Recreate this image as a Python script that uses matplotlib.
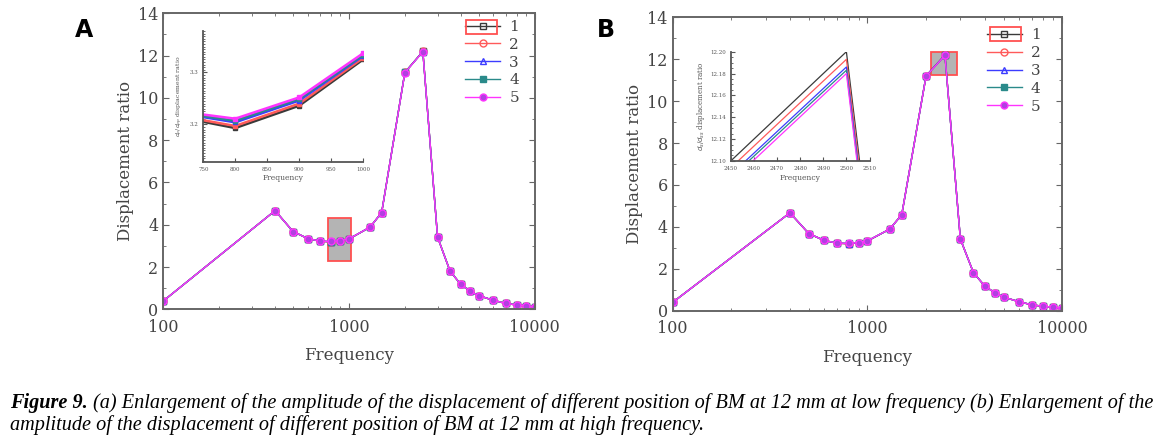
import matplotlib.pyplot as plt
import matplotlib.patches as mpatches
from matplotlib.ticker import MultipleLocator, AutoMinorLocator, LogLocator, NullFormatter
import numpy as np

# frequencies (Hz)
freq = [100, 400, 500, 600, 700, 800, 900, 1000, 1300, 1500, 2000, 2500,
        3000, 3500, 4000, 4500, 5000, 6000, 7000, 8000, 9000, 10000]

# displacement ratio for the five BM positions
ratio_1 = [0.40, 4.67, 3.68, 3.35, 3.217, 3.193, 3.236, 3.325, 3.89, 4.58, 11.20, 12.200,
           3.42, 1.82, 1.18, 0.86, 0.65, 0.43, 0.28, 0.21, 0.17, 0.12]
ratio_2 = [0.40, 4.67, 3.68, 3.35, 3.219, 3.197, 3.240, 3.328, 3.89, 4.58, 11.20, 12.193,
           3.42, 1.82, 1.18, 0.86, 0.65, 0.43, 0.28, 0.21, 0.17, 0.12]
ratio_3 = [0.40, 4.67, 3.68, 3.35, 3.224, 3.204, 3.246, 3.332, 3.89, 4.58, 11.20, 12.186,
           3.42, 1.82, 1.18, 0.86, 0.65, 0.43, 0.28, 0.21, 0.17, 0.12]
ratio_4 = [0.40, 4.67, 3.68, 3.35, 3.225, 3.207, 3.249, 3.334, 3.89, 4.58, 11.20, 12.183,
           3.42, 1.82, 1.18, 0.86, 0.65, 0.43, 0.28, 0.21, 0.17, 0.12]
ratio_5 = [0.40, 4.67, 3.68, 3.35, 3.227, 3.211, 3.252, 3.337, 3.89, 4.58, 11.19, 12.180,
           3.42, 1.82, 1.18, 0.86, 0.65, 0.43, 0.28, 0.21, 0.17, 0.12]
labels = ['1', '2', '3', '4', '5']
series = [ratio_1, ratio_2, ratio_3, ratio_4, ratio_5]

colors = ['#3a3a3a', '#ff5a5a', '#3c3cff', '#2a8a8a', '#ff33ff']
markers = ['s', 'o', '^', 's', 'o']
mfcs = ['none', 'none', 'none', '#2a8a8a', '#b040e0']

serif = 'DejaVu Serif'
axcol = '#666666'

fig = plt.figure(figsize=(11.75, 4.42), dpi=100)


def style_main(ax):
    ax.set_xscale('log')
    ax.set_xlim(100, 10000)
    ax.set_ylim(0, 14)
    ax.yaxis.set_major_locator(MultipleLocator(2))
    ax.yaxis.set_minor_locator(MultipleLocator(1))
    ax.xaxis.set_minor_locator(LogLocator(base=10, subs=np.arange(2, 10) * 1.0))
    ax.xaxis.set_minor_formatter(NullFormatter())
    ax.set_xticks([100, 1000, 10000])
    ax.set_xticklabels(['100', '1000', '10000'])
    ax.tick_params(which='both', direction='in', top=True, right=True,
                   colors=axcol, labelcolor='#444444', labelsize=11.5)
    ax.tick_params(which='major', length=4)
    ax.tick_params(which='minor', length=2.5)
    ax.tick_params(axis='x', pad=7)
    for lab in ax.get_xticklabels() + ax.get_yticklabels():
        lab.set_family(serif)
    for s in ax.spines.values():
        s.set_color(axcol)
        s.set_linewidth(1.4)
    ax.set_xlabel('Frequency', family=serif, fontsize=12, color='#444444', labelpad=8)
    ax.set_ylabel('Displacement ratio', family=serif, fontsize=12, color='#444444', labelpad=3)


def draw_series(ax, ms, lw):
    hs = []
    for y, lab, c, m, fc in zip(series, labels, colors, markers, mfcs):
        h, = ax.plot(freq, y, color=c, lw=lw, marker=m, ms=ms, mfc=fc, mec=c,
                     mew=1.0, label=lab)
        hs.append(h)
    return hs


def style_inset(ax):
    ax.spines['top'].set_visible(False)
    ax.spines['right'].set_visible(False)
    for s in ['left', 'bottom']:
        ax.spines[s].set_color('#555555')
        ax.spines[s].set_linewidth(1.3)
    ax.tick_params(which='both', direction='in', colors='#555555',
                   labelcolor='#555555', labelsize=4)
    ax.tick_params(which='major', length=3)
    ax.tick_params(which='minor', length=1.5)
    for lab in ax.get_xticklabels() + ax.get_yticklabels():
        lab.set_family(serif)
    ax.set_xlabel('Frequency', family=serif, fontsize=5.5, color='#555555', labelpad=2)
    ax.patch.set_alpha(0)


# ---------------- panel A ----------------
axA = fig.add_axes([0.139, 0.300, 0.316, 0.670])
style_main(axA)
hA = draw_series(axA, 5, 1.0)
axA.add_patch(mpatches.Rectangle((770, 2.3), 1020 - 770, 2.0, facecolor='#b4b4b4',
                                 edgecolor='#ff5050', lw=1.3, zorder=1))
axA.legend(hA, labels, loc='upper right', bbox_to_anchor=(0.995, 1.024), frameon=False,
           prop={'family': serif, 'size': 11}, handlelength=2.3, labelspacing=0.25,
           handletextpad=0.6, labelcolor='#444444')
fig.patches.append(mpatches.Rectangle((466 / 1175, 1 - 34 / 442), 31 / 1175, 14 / 442,
                                      transform=fig.transFigure, fill=False,
                                      edgecolor='#ff5050', lw=1.3))
fig.text(75 / 1175, 1 - 30 / 442, 'A', fontsize=17, fontweight='bold', va='center')

insA = fig.add_axes([0.173, 0.634, 0.136, 0.296])
for y, c in zip(series, colors):
    insA.plot(freq, y, color=c, lw=1.8, marker='s', ms=2.5, mfc=c, mec=c)
insA.set_xlim(750, 1000)
insA.set_ylim(3.128, 3.38)
insA.set_xticks([750, 800, 850, 900, 950, 1000])
insA.set_yticks([3.2, 3.3])
insA.yaxis.set_minor_locator(MultipleLocator(0.005))
style_inset(insA)
insA.set_ylabel('$d_{p}/d_{pp}$ displacement ratio', family=serif, fontsize=4.5,
                color='#555555', labelpad=3)

# ---------------- panel B ----------------
axB = fig.add_axes([0.5725, 0.297, 0.3315, 0.664])
style_main(axB)
hB = draw_series(axB, 5, 1.0)
axB.add_patch(mpatches.Rectangle((2110, 11.25), 2870 - 2110, 1.11, facecolor='#b4b4b4',
                                 edgecolor='#ff5050', lw=1.3, zorder=1))
axB.legend(hB, labels, loc='upper right', bbox_to_anchor=(0.98, 1.009), frameon=False,
           prop={'family': serif, 'size': 11}, handlelength=2.3, labelspacing=0.25,
           handletextpad=0.6, labelcolor='#444444')
fig.patches.append(mpatches.Rectangle((990 / 1175, 1 - 41 / 442), 31 / 1175, 14 / 442,
                                      transform=fig.transFigure, fill=False,
                                      edgecolor='#ff5050', lw=1.3))
fig.text(597 / 1175, 1 - 30 / 442, 'B', fontsize=17, fontweight='bold', va='center')

insB = fig.add_axes([0.622, 0.636, 0.118, 0.247])
for y, c in zip(series, colors):
    insB.plot(freq, y, color=c, lw=0.9)
insB.set_xlim(2450, 2510)
insB.set_ylim(12.10, 12.20)
insB.set_xticks([2450, 2460, 2470, 2480, 2490, 2500, 2510])
insB.set_yticks([12.10, 12.12, 12.14, 12.16, 12.18, 12.20])
insB.yaxis.set_minor_locator(AutoMinorLocator(4))
style_inset(insB)
insB.set_ylabel('$d_{s}/d_{ss}$ displacement ratio', family=serif, fontsize=5,
                color='#555555', labelpad=2)

# ---------------- caption ----------------
capfont = 'Liberation Serif'
capsize = 14.6
head = fig.text(10 / 1175, 1 - 403 / 442, 'Figure 9.', family=capfont, style='italic',
                fontweight='bold', fontsize=capsize, va='center')
renderer = fig.canvas.get_renderer()
w = head.get_window_extent(renderer).width
fig.text(10 / 1175 + (w + 5) / 1175, 1 - 403 / 442,
         '(a) Enlargement of the amplitude of the displacement of different '
         'position of BM at 12 mm at low frequency (b) Enlargement of the',
         family=capfont, style='italic', fontsize=capsize, va='center')
fig.text(10 / 1175, 1 - 425 / 442,
         'amplitude of the displacement of different position of BM at 12 mm at high frequency.',
         family=capfont, style='italic', fontsize=capsize, va='center')

fig.savefig('out.png', dpi=100)
